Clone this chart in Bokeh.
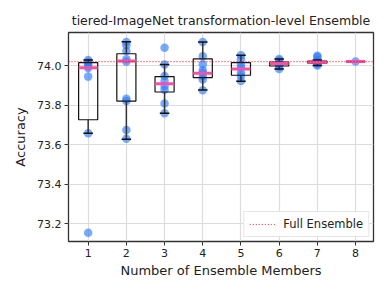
from bokeh.plotting import figure
from bokeh.models import Range1d, FixedTicker, Legend, LegendItem, NumeralTickFormatter
from bokeh.embed import file_html
from bokeh.resources import INLINE

members = [1, 2, 3, 4, 5, 6, 7, 8]

# individual subset accuracies per ensemble size
points = {
    1: [74.03, 74.02, 74.01, 74.0, 73.99, 73.946, 73.658, 73.153],
    2: [74.122, 74.105, 74.076, 74.034, 74.022, 73.834, 73.822, 73.675, 73.631],
    3: [74.093, 74.007, 73.949, 73.924, 73.898, 73.88, 73.809, 73.76],
    4: [74.122, 74.049, 74.009, 73.978, 73.966, 73.949, 73.932, 73.877],
    5: [74.054, 74.034, 74.005, 73.991, 73.966, 73.949, 73.924],
    6: [74.036, 74.028, 74.02, 74.015, 74.01, 74.005, 73.998, 73.985],
    7: [74.052, 74.045, 74.03, 74.022, 74.018, 74.015, 74.01, 74.003],
    8: [74.023],
}

# box statistics
q1 = [73.727, 73.822, 73.868, 73.941, 73.953, 74.0, 74.014, 74.023]
median = [73.991, 74.025, 73.910, 73.963, 73.985, 74.012, 74.019, 74.023]
q3 = [74.017, 74.062, 73.946, 74.036, 74.017, 74.02, 74.025, 74.023]
whisker_low = [73.658, 73.628, 73.76, 73.878, 73.922, 73.985, 74.003, 74.023]
whisker_high = [74.03, 74.123, 74.007, 74.122, 74.054, 74.036, 74.03, 74.023]

full_ensemble = 74.022
y_ticks = [73.2, 73.4, 73.6, 73.8, 74.0]

font = "DejaVu Sans"

p = figure(width=381, height=287, output_backend="svg", toolbar_location=None,
           x_range=Range1d(0.485, 8.47), y_range=Range1d(73.109, 74.17),
           min_border_left=68, min_border_right=8, min_border_top=32, min_border_bottom=46)
p.title.text = "tiered-ImageNet transformation-level Ensemble"
p.title.text_font = font
p.title.text_font_size = "12.5px"
p.title.text_font_style = "normal"
p.title.align = "center"
p.title.text_color = "#222222"

p.background_fill_color = "white"
p.border_fill_color = "white"
p.outline_line_color = "#333333"
p.outline_line_width = 1.3

p.xaxis.ticker = FixedTicker(ticks=members)
p.yaxis.ticker = FixedTicker(ticks=y_ticks)
p.yaxis.formatter = NumeralTickFormatter(format="0.0")
for ax in (p.xaxis, p.yaxis):
    ax.axis_line_color = None
    ax.major_tick_line_color = "#333333"
    ax.major_tick_out = 4
    ax.major_tick_in = 0
    ax.minor_tick_line_color = None
    ax.major_label_text_font = font
    ax.major_label_text_font_size = "11px"
    ax.major_label_text_color = "#222222"
    ax.axis_label_text_font = font
    ax.axis_label_text_font_size = "13px"
    ax.axis_label_text_font_style = "normal"
    ax.axis_label_text_color = "#222222"
p.xaxis.axis_label = "Number of Ensemble Members"
p.yaxis.axis_label = "Accuracy"
p.xaxis.major_label_standoff = 3
p.yaxis.major_label_standoff = 3
p.xaxis.axis_label_standoff = 3
p.yaxis.axis_label_standoff = 6

p.xgrid.ticker = FixedTicker(ticks=members)
p.ygrid.ticker = FixedTicker(ticks=y_ticks)
p.grid.grid_line_color = "#dcdcdc"
p.grid.grid_line_width = 1.2

# points
px, py = [], []
for m in members:
    for v in points[m]:
        px.append(m)
        py.append(v)
p.scatter(px, py, size=8.5, fill_color="#2f7dff", fill_alpha=0.65, line_color=None)

# boxes
half = 0.25
cap = 0.125
left = [m - half for m in members]
right = [m + half for m in members]
p.quad(left=left, right=right, bottom=q1, top=q3, fill_color=None,
       line_color="#111111", line_width=1.2)
p.segment(x0=members, x1=members, y0=q3, y1=whisker_high, line_color="#333333", line_width=1.5)
p.segment(x0=members, x1=members, y0=q1, y1=whisker_low, line_color="#333333", line_width=1.5)
p.segment(x0=[m - cap for m in members], x1=[m + cap for m in members],
          y0=whisker_high, y1=whisker_high, line_color="#111111", line_width=1.5)
p.segment(x0=[m - cap for m in members], x1=[m + cap for m in members],
          y0=whisker_low, y1=whisker_low, line_color="#111111", line_width=1.5)
p.segment(x0=left, x1=right, y0=median, y1=median, line_color="#ff4fa3", line_width=3)

# full ensemble line
fe = p.line([0.485, 8.47], [full_ensemble, full_ensemble], line_color="red",
            line_dash="1 2", line_width=1.2, line_alpha=0.8)

legend = Legend(items=[LegendItem(label="Full Ensemble", renderers=[fe])],
                location="bottom_right", label_text_font=font, label_text_font_size="11.5px",
                label_text_color="#222222", border_line_color="#cccccc", border_line_width=1,
                background_fill_alpha=0.9, glyph_width=26, glyph_height=12,
                padding=5, margin=4, spacing=0, label_standoff=8)
p.add_layout(legend)

open("out.html", "w").write(file_html(p, INLINE))
